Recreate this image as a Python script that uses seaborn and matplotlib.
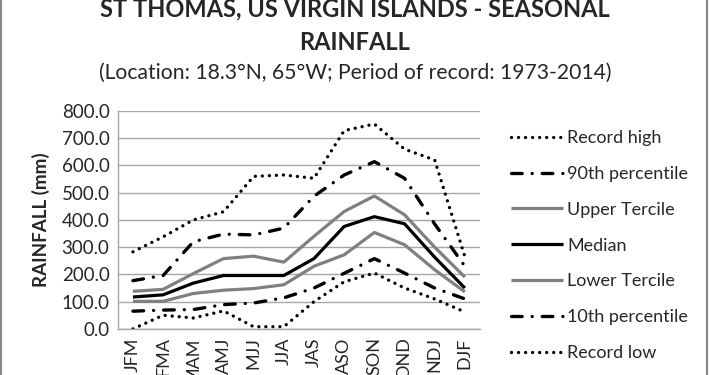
import matplotlib
matplotlib.use("Agg")
import matplotlib.pyplot as plt
import seaborn as sns
from matplotlib.patches import Rectangle

seasons = ['JFM', 'FMA', 'MAM', 'AMJ', 'MJJ', 'JJA', 'JAS', 'ASO', 'SON', 'OND', 'NDJ', 'DJF']
record_high = [283, 338, 400, 430, 560, 565, 553, 728, 752, 660, 620, 265]
pct90 = [177, 196, 320, 348, 345, 370, 487, 565, 614, 553, 385, 230]
upper_tercile = [138, 145, 203, 258, 267, 245, 340, 431, 488, 419, 300, 190]
median = [117, 125, 168, 196, 196, 196, 258, 376, 412, 386, 263, 150]
lower_tercile = [101, 101, 130, 142, 148, 162, 230, 272, 354, 309, 217, 136]
pct10 = [65, 69, 71, 89, 95, 114, 150, 204, 258, 205, 150, 110]
record_low = [0, 50, 40, 66, 8, 8, 100, 173, 205, 150, 110, 62]
y_ticks = [0, 100, 200, 300, 400, 500, 600, 700, 800]

sns.set_style('white')
plt.rcParams['font.family'] = ['Lato', 'DejaVu Sans']

fig = plt.figure(figsize=(7.1, 3.75), dpi=100)
ax = fig.add_axes([0.166, 0.123, 0.51, 0.581])

dots = (0, (0.01, 2.1))
dash_dot = (0, (3.2, 3, 0.01, 3))
series = [
    ('Record high', record_high, 'black', dots),
    ('90th percentile', pct90, 'black', dash_dot),
    ('Upper Tercile', upper_tercile, '#808080', '-'),
    ('Median', median, 'black', '-'),
    ('Lower Tercile', lower_tercile, '#808080', '-'),
    ('10th percentile', pct10, 'black', dash_dot),
    ('Record low', record_low, 'black', dots),
]

for name, vals, col, ls in series:
    lw = 2.4 if ls != '-' else 2.3
    sns.lineplot(x=seasons, y=vals, ax=ax, color=col, linestyle=ls, linewidth=lw,
                 label=name, dash_capstyle='round', solid_capstyle='butt')

ax.set_xlim(-0.5, 11.5)
ax.set_ylim(0, 800)
ax.set_yticks(y_ticks)
ax.set_yticklabels([f'{t:.1f}' for t in y_ticks], fontsize=13.5)
ax.set_xticks(range(len(seasons)))
ax.set_xticklabels(seasons, rotation=90, fontsize=13, va='top')
ax.tick_params(axis='both', length=0, pad=6)
ax.yaxis.grid(True, color='#a6a6a6', linewidth=1)
ax.set_axisbelow(True)
for side in ['top', 'right']:
    ax.spines[side].set_visible(False)
for side in ['left', 'bottom']:
    ax.spines[side].set_color('#a6a6a6')
    ax.spines[side].set_linewidth(1)
ax.set_xlabel('')
ax.set_ylabel('RAINFALL (mm)', fontsize=13.5, fontweight='bold', labelpad=8)

# legend sits to the right of the plot area, like the Excel original
ax.legend(loc='center left', bbox_to_anchor=(0.697, 0.345), bbox_transform=fig.transFigure,
          frameon=False, fontsize=13, handlelength=2.9, handletextpad=0.2,
          labelspacing=1.1)

fig.text(0.5, 0.975, 'ST THOMAS, US VIRGIN ISLANDS - SEASONAL', ha='center', va='center',
         fontsize=17, fontweight='bold')
fig.text(0.5, 0.888, 'RAINFALL', ha='center', va='center', fontsize=17, fontweight='bold')
fig.text(0.5, 0.805, '(Location: 18.3°N, 65°W; Period of record: 1973-2014)', ha='center',
         va='center', fontsize=15.2)

fig.patches.append(Rectangle((0.002, -0.01), 0.994, 1.02, transform=fig.transFigure,
                             fill=False, edgecolor='#888888', linewidth=1.5))

fig.savefig('out.png', dpi=100)
